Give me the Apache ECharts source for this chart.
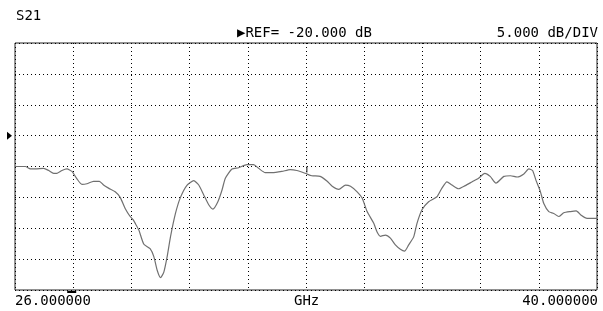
<!DOCTYPE html>
<html>
<head>
<meta charset="utf-8">
<script src="https://cdn.jsdelivr.net/npm/echarts@6/dist/echarts.min.js"></script>
<style>
html,body{margin:0;padding:0;background:#fff;}
#c{width:603px;height:311px;}
</style>
</head>
<body>
<div id="c"></div>
<script>
// Frequency axis (GHz) and S21 trace (dB)
var freqGHz = [26.00,26.25,26.37,26.49,26.69,26.81,26.93,27.01,27.13,27.25,27.37,27.49,27.61,27.73,27.89,28.03,28.13,28.25,28.41,28.53,28.65,28.77,28.84,28.90,28.98,29.10,29.25,29.34,29.42,29.50,29.58,29.66,29.74,29.86,29.98,30.14,30.30,30.42,30.54,30.66,30.76,30.88,30.98,31.06,31.22,31.38,31.58,31.74,31.86,32.02,32.18,32.42,32.62,32.78,32.98,33.14,33.34,33.51,33.63,33.79,33.95,34.07,34.23,34.35,34.47,34.63,34.71,34.79,34.91,35.03,35.15,35.27,35.37,35.47,35.59,35.67,35.79,35.95,36.15,36.27,36.39,36.51,36.67,36.83,36.99,37.15,37.30,37.43,37.57,37.76,37.92,38.08,38.24,38.36,38.45,38.53,38.64,38.72,38.84,38.96,39.08,39.20,39.36,39.50,39.62,39.76,40.00];
var s21dB = [-25.0,-25.0,-25.4,-25.4,-25.3,-25.65,-26.1,-26.1,-25.65,-25.4,-25.8,-27.0,-27.9,-27.8,-27.4,-27.4,-28.0,-28.5,-29.1,-30.0,-31.8,-33.1,-33.6,-34.3,-35.3,-37.6,-38.3,-39.6,-41.8,-43.0,-42.1,-39.6,-36.4,-32.6,-30.0,-28.0,-27.3,-28.0,-29.6,-31.2,-31.9,-30.7,-28.8,-26.9,-25.4,-25.2,-24.7,-24.7,-25.3,-26.0,-26.0,-25.8,-25.5,-25.65,-26.1,-26.5,-26.6,-27.4,-28.2,-28.7,-28.0,-28.2,-29.1,-30.1,-32.3,-34.2,-35.6,-36.3,-36.1,-36.6,-37.7,-38.4,-38.7,-37.7,-36.4,-34.2,-32.0,-30.7,-29.9,-28.5,-27.5,-28.0,-28.6,-28.1,-27.5,-26.9,-26.1,-26.6,-27.7,-26.6,-26.5,-26.7,-26.2,-25.4,-25.65,-27.2,-29.1,-31.0,-32.3,-32.6,-33.1,-32.5,-32.3,-32.2,-32.9,-33.4,-33.4];

var startLabel = '26.000000';
var stopLabel = '40.000000';
var unitLabel = 'GHz';
var traceLabel = 'S21';
var refLabel = '\u25B6REF= -20.000 dB';
var scaleLabel = '5.000 dB/DIV';
var refLevel = -20;
var fStart = 26, fStop = 40, fDiv = 1.4;
var yMin = -45, yMax = -5, yDiv = 5;

var FONT = '"DejaVu Sans Mono", monospace';
var chart = echarts.init(document.getElementById('c'), null, {renderer: 'canvas'});

var pts = freqGHz.map(function (f, i) { return [f, s21dB[i]]; });

var dotted = {color: '#000', width: 1, type: [1, 3]};

chart.setOption({
  animation: false,
  backgroundColor: '#fff',
  grid: {left: 15, right: 6, top: 43, bottom: 21, show: true, borderColor: '#222', borderWidth: 1, backgroundColor: 'transparent'},
  xAxis: {
    type: 'value', min: fStart, max: fStop, interval: fDiv,
    axisLine: {show: false}, axisTick: {show: false}, axisLabel: {show: false},
    splitLine: {show: true, lineStyle: dotted}
  },
  yAxis: {
    type: 'value', min: yMin, max: yMax, interval: yDiv,
    axisLine: {show: false}, axisTick: {show: false}, axisLabel: {show: false},
    splitLine: {show: true, lineStyle: dotted}
  },
  series: [{
    type: 'line', data: pts, showSymbol: false, smooth: 0.2,
    lineStyle: {color: '#707070', width: 1.2}
  }]
});

var refPx = chart.convertToPixel({gridIndex: 0}, [fStart, refLevel]);
var mk = chart.convertToPixel({gridIndex: 0}, [33.02, -25.5]);
var btm = chart.convertToPixel({gridIndex: 0}, [27.4, yMin]);

chart.setOption({
  graphic: [
    {type: 'text', left: 16, top: 9, style: {text: traceLabel, font: '14px ' + FONT, fill: '#000'}},
    {type: 'text', left: 237, top: 26, style: {text: refLabel, font: '14px ' + FONT, fill: '#000'}},
    {type: 'text', right: 5, top: 26, style: {text: scaleLabel, font: '14px ' + FONT, fill: '#000'}},
    {type: 'text', left: 15, top: 294, style: {text: startLabel, font: '14px ' + FONT, fill: '#000'}},
    {type: 'text', left: 294, top: 294, style: {text: unitLabel, font: '14px ' + FONT, fill: '#000'}},
    {type: 'text', right: 5, top: 294, style: {text: stopLabel, font: '14px ' + FONT, fill: '#000'}},
    {type: 'polygon', shape: {points: [[refPx[0] - 8, refPx[1] - 4], [refPx[0] - 3, refPx[1]], [refPx[0] - 8, refPx[1] + 4]]}, style: {fill: '#000'}},
    {type: 'line', shape: {x1: mk[0], y1: mk[1] - 3, x2: mk[0], y2: mk[1] + 3}, style: {stroke: '#333', lineWidth: 1.2}},
    {type: 'rect', shape: {x: btm[0] - 6, y: btm[1] + 1, width: 9, height: 2}, style: {fill: '#000'}}
  ]
});
</script>
</body>
</html>
